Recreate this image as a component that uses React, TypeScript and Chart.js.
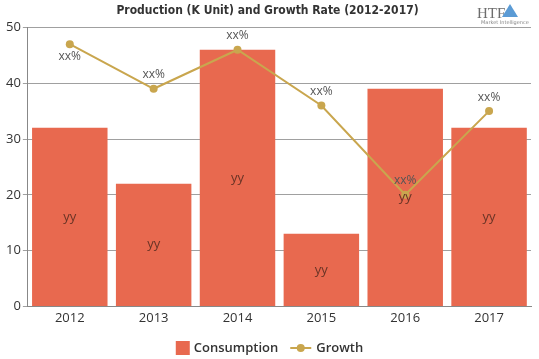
import React, { useEffect, useRef } from "react";
import { Chart, registerables } from "chart.js";

Chart.register(...registerables);

const years = ["2012", "2013", "2014", "2015", "2016", "2017"];
const consumption = [32, 22, 46, 13, 39, 32];
const growth = [47, 39, 46, 36, 20, 35];
const barLabels = ["yy", "yy", "yy", "yy", "yy", "yy"];
const lineLabels = ["xx%", "xx%", "xx%", "xx%", "xx%", "xx%"];
const seriesNames = ["Consumption", "Growth"];
const titleText = "Production (K Unit) and Growth Rate (2012-2017)";

const BAR_COLOR = "#E8694F";
const LINE_COLOR = "#C9A64E";

const labelPlugin = {
  id: "labelPlugin",
  afterDatasetsDraw(chart: any) {
    const ctx = chart.ctx;
    ctx.save();
    ctx.textAlign = "center";
    ctx.textBaseline = "middle";
    const barMeta = chart.getDatasetMeta(0);
    ctx.font = "13px 'Open Sans', sans-serif";
    ctx.fillStyle = "#6a3426";
    barMeta.data.forEach((el: any, i: number) => {
      const y = (el.y + el.base) / 2;
      ctx.fillText(barLabels[i], el.x, y);
    });
    const lineMeta = chart.getDatasetMeta(1);
    ctx.font = "12px 'Open Sans', sans-serif";
    ctx.fillStyle = "#555555";
    lineMeta.data.forEach((el: any, i: number) => {
      const above = el.y - 15 > chart.chartArea.top + 4;
      const y = above ? el.y - 14 : el.y + 12;
      ctx.fillText(lineLabels[i], el.x, y);
    });
    ctx.restore();
  },
  afterDraw(chart: any) {
    const ctx = chart.ctx;
    ctx.save();
    // logo
    ctx.fillStyle = "#6d6d6d";
    ctx.font = "15px 'Liberation Serif', serif";
    ctx.textBaseline = "alphabetic";
    ctx.textAlign = "left";
    ctx.fillText("HTF", 477, 18);
    ctx.fillStyle = "#5b9bd5";
    ctx.beginPath();
    ctx.moveTo(510, 4);
    ctx.lineTo(518, 17);
    ctx.lineTo(502, 17);
    ctx.closePath();
    ctx.fill();
    ctx.fillStyle = "#888";
    ctx.font = "5px 'DejaVu Sans', sans-serif";
    ctx.fillText("Market Intelligence", 481, 24);

    // legend
    ctx.font = "600 13px 'Open Sans', sans-serif";
    ctx.textBaseline = "middle";
    const w0 = ctx.measureText(seriesNames[0]).width;
    const w1 = ctx.measureText(seriesNames[1]).width;
    const total = 14 + 4 + w0 + 12 + 21 + 5 + w1;
    let x = (chart.width / 2) - total / 2;
    const cy = 348;
    ctx.fillStyle = BAR_COLOR;
    ctx.fillRect(x, cy - 7, 14, 14);
    x += 18;
    ctx.fillStyle = "#333333";
    ctx.fillText(seriesNames[0], x, cy);
    x += w0 + 12;
    ctx.strokeStyle = LINE_COLOR;
    ctx.lineWidth = 2;
    ctx.beginPath();
    ctx.moveTo(x, cy);
    ctx.lineTo(x + 21, cy);
    ctx.stroke();
    ctx.fillStyle = LINE_COLOR;
    ctx.beginPath();
    ctx.arc(x + 10.5, cy, 4, 0, Math.PI * 2);
    ctx.fill();
    x += 26;
    ctx.fillStyle = "#333333";
    ctx.fillText(seriesNames[1], x, cy);
    ctx.restore();
  },
};

export default function App() {
  const ref = useRef<HTMLCanvasElement>(null);
  useEffect(() => {
    document.body.style.margin = "0";
    const chart = new Chart(ref.current!, {
      type: "bar",
      data: {
        labels: years,
        datasets: [
          {
            type: "bar",
            label: seriesNames[0],
            data: consumption,
            backgroundColor: BAR_COLOR,
            barPercentage: 0.9,
            categoryPercentage: 1.0,
            order: 2,
          } as any,
          {
            type: "line",
            label: seriesNames[1],
            data: growth,
            borderColor: LINE_COLOR,
            backgroundColor: LINE_COLOR,
            borderWidth: 2,
            pointRadius: 4,
            pointBackgroundColor: LINE_COLOR,
            pointBorderWidth: 0,
            tension: 0,
            order: 1,
          } as any,
        ],
      },
      options: {
        animation: false,
        responsive: true,
        maintainAspectRatio: false,
        layout: { padding: { left: 4, right: 8, top: 0, bottom: 29 } },
        plugins: {
          title: {
            display: true,
            text: titleText,
            color: "#333333",
            font: { family: "'DejaVu Sans Condensed', 'DejaVu Sans', sans-serif", size: 12, weight: "bold" },
            padding: { top: 4, bottom: 9 },
          },
          legend: { display: false },
          tooltip: { enabled: false },
        },
        scales: {
          x: {
            grid: { display: false, drawTicks: false },
            border: { display: true, color: "#888888", width: 1 },
            ticks: { color: "#333333", font: { family: "'Open Sans', sans-serif", size: 13 }, padding: 4 },
          },
          y: {
            min: 0,
            max: 50,
            ticks: { stepSize: 10, color: "#333333", font: { family: "'Open Sans', sans-serif", size: 13 }, padding: 2 },
            grid: { color: "#a0a0a0", tickLength: 5 },
            border: { display: true, color: "#888888" },
          },
        },
      },
      plugins: [labelPlugin],
    });
    return () => chart.destroy();
  }, []);
  return (
    <div style={{ width: 539, height: 359, position: "relative" }}>
      <canvas ref={ref} />
    </div>
  );
}
